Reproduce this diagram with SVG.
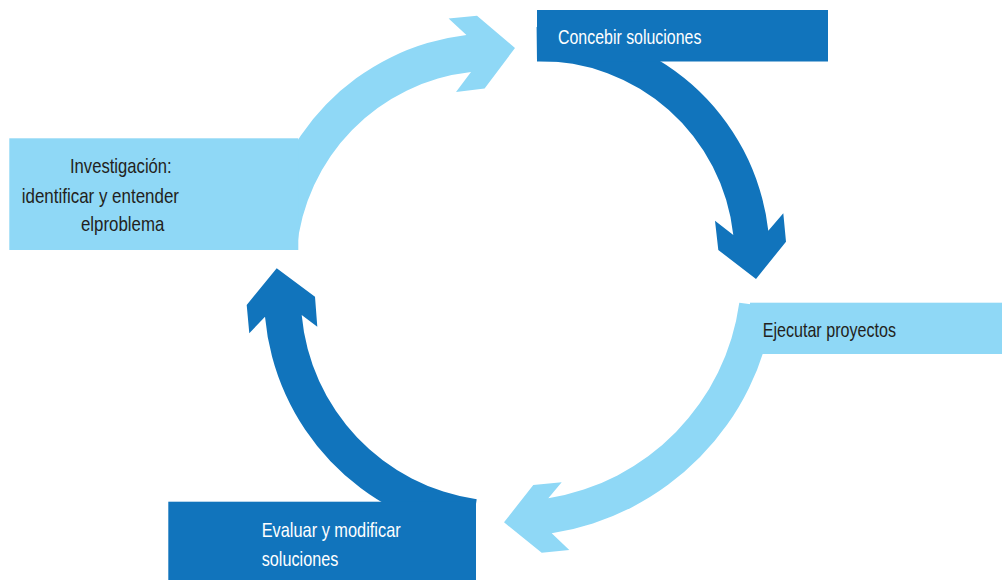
<svg xmlns="http://www.w3.org/2000/svg" width="1002" height="580" viewBox="0 0 1002 580">
<style>
.dark{fill:#1174bc}
.light{fill:#8fd8f6}
.t{font-family:"Liberation Sans",Arial,sans-serif;font-size:21px}
.tw{fill:#ffffff}
.tk{fill:#231f20}
</style>
<rect width="1002" height="580" fill="#ffffff"/>
<g id="connectors">
<path id="arrow-investigacion-concebir" class="light" d="M296.7,250 A197,197 0 0 1 471,72 L456,92 L484.6,88.6 L515,48 L477,15.7 L448.6,18.6 L466.4,35 A234,234 0 0 0 261,247 Z"/>
<path id="arrow-concebir-ejecutar" class="dark" d="M537,61 A195,195 0 0 1 733.3,235 L715,220.7 L718.3,250 L756,279 L786,241.7 L783.3,213.3 L768.3,230.7 A230,230 0 0 0 536.6,27 Z"/>
<path id="arrow-ejecutar-evaluar" class="light" d="M739.3,302.7 A230,230 0 0 1 548.3,498.3 L561.7,482.3 L533.3,485 L504,522.3 L541.7,552.7 L569.3,550 L551.7,533.3 A265,265 0 0 0 773.5,307.4 Z"/>
<path id="arrow-evaluar-investigacion" class="dark" d="M476.7,499.3 A205,205 0 0 1 301.7,315 L317.3,326.7 L315,296.7 L276.7,268.3 L246.7,305 L249.3,333.3 L265,316.7 A242,242 0 0 0 471.4,534.1 Z"/>
</g>
<g id="node-investigacion">
<rect class="light" x="9.3" y="138.3" width="289" height="111.7"/>
<text class="t tk" x="70" y="173.3" textLength="101.7" lengthAdjust="spacingAndGlyphs">Investigación:</text>
<text class="t tk" x="21.7" y="202.7" textLength="157.3" lengthAdjust="spacingAndGlyphs">identificar y entender</text>
<text class="t tk" x="81" y="231" textLength="83.3" lengthAdjust="spacingAndGlyphs">elproblema</text>
</g>
<g id="node-concebir">
<rect class="dark" x="537" y="10" width="291" height="51.5"/>
<text class="t tw" x="558" y="43.5" textLength="143.4" lengthAdjust="spacingAndGlyphs">Concebir soluciones</text>
</g>
<g id="node-ejecutar">
<rect class="light" x="750" y="302.7" width="252" height="51.3"/>
<text class="t tk" x="762.7" y="336.7" textLength="133.3" lengthAdjust="spacingAndGlyphs">Ejecutar proyectos</text>
</g>
<g id="node-evaluar">
<rect class="dark" x="168.3" y="501.7" width="307.7" height="78.3"/>
<text class="t tw" x="261.7" y="537.3" textLength="139" lengthAdjust="spacingAndGlyphs">Evaluar y modificar</text>
<text class="t tw" x="261.7" y="566" textLength="76.6" lengthAdjust="spacingAndGlyphs">soluciones</text>
</g>
</svg>
